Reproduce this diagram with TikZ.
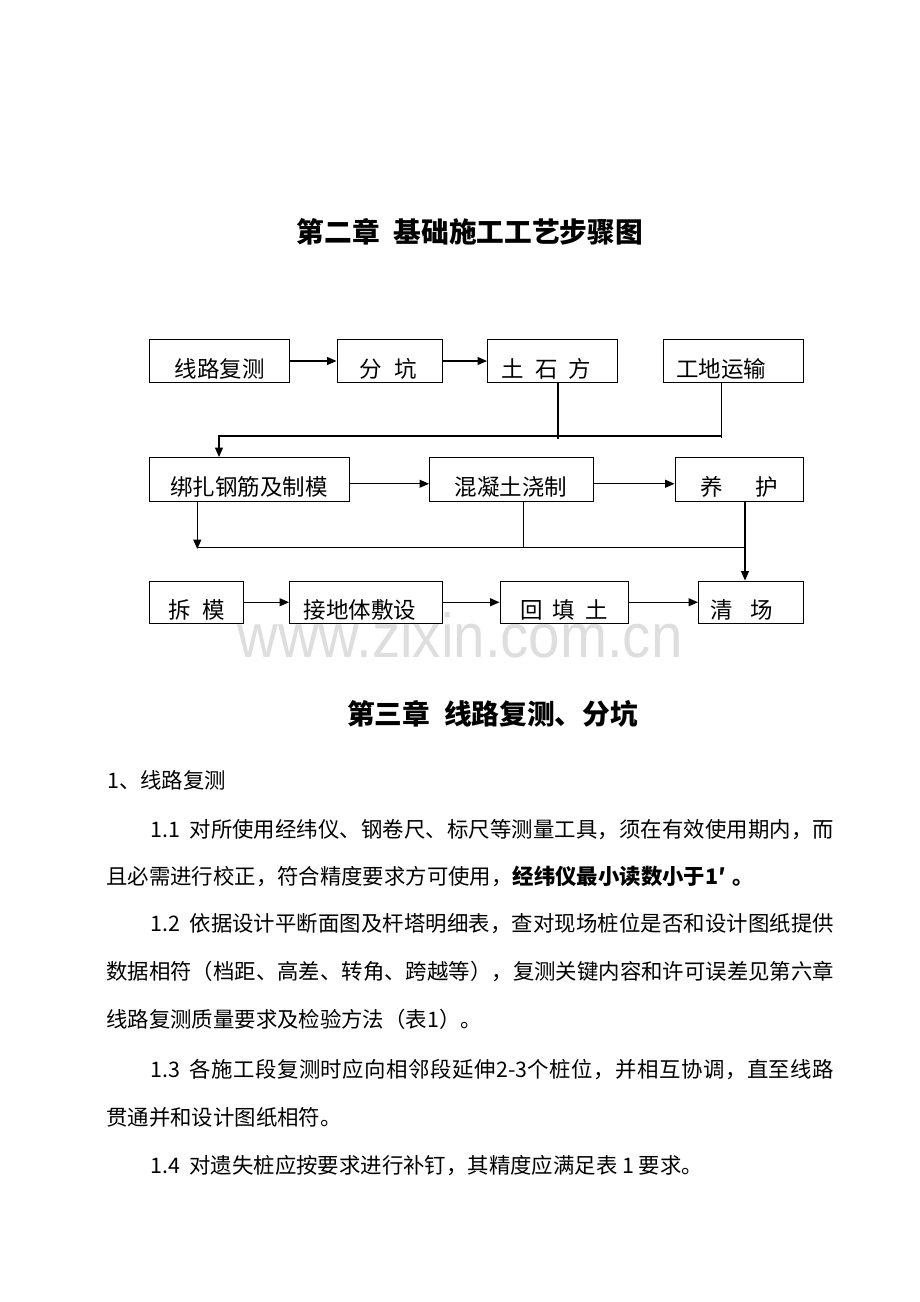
\documentclass[tikz,border=0pt]{standalone}
\usepackage{fontspec}
\setmainfont{Noto Sans CJK SC}
\newfontfamily\wmfont{Liberation Sans}
\usetikzlibrary{arrows.meta}
\def\spreadit#1{\spreadstep#1\spreadend}
\def\spreadstep#1#2\spreadend{#1\ifx\relax#2\relax\else\hfil\spreadstep#2\spreadend\fi}
\begin{document}
\begin{tikzpicture}[x=1pt,y=-1pt,
  box/.style={draw, line width=1pt, inner sep=0, minimum height=43pt},
  lbl/.style={font=\fontsize{22.5}{22.5}\selectfont, inner sep=0, anchor=base},
  conn/.style={line width=1.25pt},
  arr/.style={conn, -{Triangle[length=9.5pt,width=8pt]}},
  body/.style={font=\fontsize{21.4}{21.4}\selectfont, inner sep=0, anchor=base west},
  htitle/.style={font=\fontsize{27.7}{27.7}\selectfont\bfseries, inner sep=0, anchor=base}]
\useasboundingbox (0,0) rectangle (920,1302);

% watermark
\node[inner sep=0, anchor=base, text=black!13, font=\wmfont\fontsize{62}{62}\selectfont] (wm) at (460,657) {\scalebox{0.91}[1]{www.zixin.com.cn}};

% titles
\node[htitle] (h1) at (470,242.5) {第二章\hspace{0.5em}基础施工工艺步骤图};
\node[htitle] (h2) at (492.5,724.5) {第三章\hspace{0.5em}线路复测、分坑};

% row 1 boxes
\node[box, minimum width=140pt]   (b1) at (219.5,361) {};
\node[box, minimum width=105pt]   (b2) at (389.5,361) {};
\node[box, minimum width=129.5pt] (b3) at (552.25,361) {};
\node[box, minimum width=140.5pt] (b4) at (733.25,361) {};
% row 2 boxes
\node[box, minimum width=199.5pt, minimum height=43.5pt] (b5) at (249.25,479.25) {};
\node[box, minimum width=164pt,   minimum height=43.5pt] (b6) at (511.5,479.25) {};
\node[box, minimum width=128.5pt, minimum height=43.5pt] (b7) at (739.25,479.25) {};
% row 3 boxes
\node[box, minimum width=93.5pt,  minimum height=42.5pt] (b8)  at (196.25,602.25) {};
\node[box, minimum width=152.5pt, minimum height=42.5pt] (b9)  at (365.75,602.25) {};
\node[box, minimum width=128.5pt, minimum height=42.5pt] (b10) at (564.25,602.25) {};
\node[box, minimum width=105pt,   minimum height=42.5pt] (b11) at (751,602.25) {};

% labels
\node[lbl] (t1)  at (219.5,377) {线路复测};
\node[lbl] (t2)  at (388.5,377) {分\hspace{13pt}坑};
\node[lbl] (t3)  at (546.7,377) {土\hspace{11pt}石\hspace{11pt}方};
\node[lbl] (t4)  at (721.3,377) {工地运输};
\node[lbl] (t5)  at (249,495.5) {绑扎钢筋及制模};
\node[lbl] (t6)  at (511,495.5) {混凝土浇制};
\node[lbl] (t7)  at (739,495.5) {养\hspace{33pt}护};
\node[lbl] (t8)  at (196.7,618) {拆\hspace{12pt}模};
\node[lbl] (t9)  at (360,618) {接地体敷设};
\node[lbl] (t10) at (564,618) {回\hspace{10pt}填\hspace{10pt}土};
\node[lbl] (t11) at (741.7,618) {清\hspace{18pt}场};

% junction coordinates
\coordinate (j0) at (219,436);
\coordinate (j1) at (558,436);
\coordinate (j1e) at (558,439);
\coordinate (j2) at (721.3,436);
\coordinate (j2e) at (721.3,438);
\coordinate (k0) at (197.3,547.7);
\coordinate (k0e) at (197.3,549);
\coordinate (k1) at (523.3,547.7);
\coordinate (k2) at (745,547.7);

% row 1 connectors
\draw[arr] (b1) -- (b2);
\draw[arr] (b2) -- (b3);
\draw[conn] (b3.south -| j1) -- (j1e);
\draw[conn] (b4.south -| j2) -- (j2e);
\draw[arr] (j2) -- (j0) -- (j0 |- b5.north);
% row 2 connectors
\draw[arr] ([yshift=-4.5pt]b5.east) -- ([yshift=-4.5pt]b6.west);
\draw[arr] ([yshift=-4.5pt]b6.east) -- ([yshift=-4.5pt]b7.west);
\draw[arr] (b5.south -| k0) -- (k0e);
\draw[conn] (k0) -- (k2);
\draw[conn] (b6.south -| k1) -- (k1);
\draw[arr] (b7.south -| k2) -- (k2 |- b11.north);
% row 3 connectors
\draw[arr] (b8) -- (b9);
\draw[arr] (b9) -- (b10);
\draw[arr] (b10) -- (b11);

% body text
\node[body] (p0) at (107,788) {1、线路复测};
\node[body] (p1) at (150,837) {\hbox to 684pt{1.1\hspace{0.45em}\spreadit{对所使用经纬仪、钢卷尺、标尺等测量工具，须在有效使用期内，而}}};
\node[body] (p2) at (106,884) {且必需进行校正，符合精度要求方可使用，{\bfseries 经纬仪最小读数小于1′\hspace{0.3em}。}};
\node[body] (p3) at (150,931) {\hbox to 684pt{1.2\hspace{0.45em}\spreadit{依据设计平断面图及杆塔明细表，查对现场桩位是否和设计图纸提供}}};
\node[body] (p4) at (106,979) {\hbox to 728pt{\spreadit{数据相符（档距、高差、转角、跨越等），复测关键内容和许可误差见第六章}}};
\node[body] (p5) at (106,1027) {线路复测质量要求及检验方法（表1）。};
\node[body] (p6) at (150,1077) {\hbox to 684pt{1.3\hspace{0.45em}\spreadit{各施工段复测时应向相邻段延伸}\hfil 2-3\hfil\spreadit{个桩位，并相互协调，直至线路}}};
\node[body] (p7) at (106,1125) {贯通并和设计图纸相符。};
\node[body] (p8) at (150,1173) {1.4\hspace{0.45em}对遗失桩应按要求进行补钉，其精度应满足表 1 要求。};
\end{tikzpicture}
\end{document}
